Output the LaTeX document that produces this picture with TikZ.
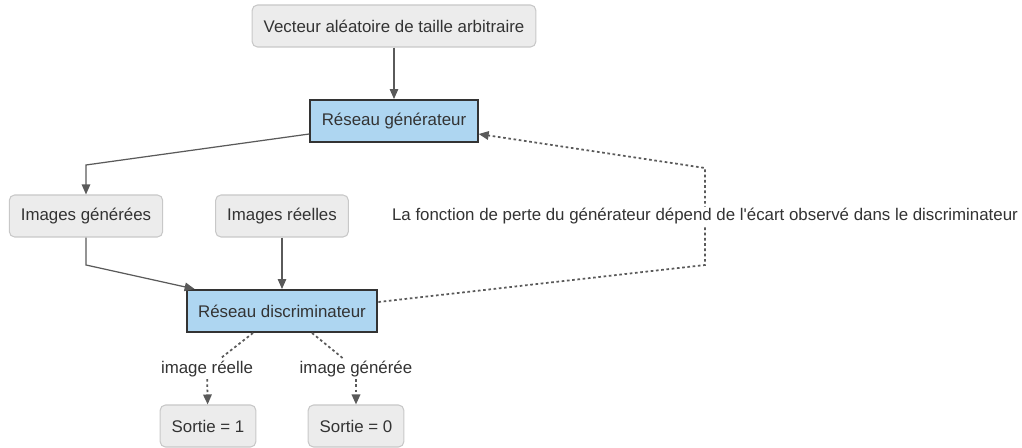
\documentclass[tikz,border=0pt]{standalone}
\usepackage{fontspec}
\setmainfont{Liberation Sans}
\usetikzlibrary{arrows.meta}

\definecolor{boxgray}{HTML}{ECECEC}
\definecolor{boxline}{HTML}{C8C8C8}
\definecolor{netblue}{HTML}{AED6F1}
\definecolor{ink}{HTML}{333333}
\definecolor{edge}{HTML}{5A5A5A}

\tikzset{
  data/.style={draw=boxline, fill=boxgray, rounded corners=3pt, line width=0.6pt,
    minimum height=0.84cm, inner xsep=0.23cm, text=ink},
  net/.style={draw=ink, fill=netblue, line width=1.1pt,
    minimum height=0.84cm, inner xsep=0.23cm, text=ink},
  flow/.style={draw=edge, line width=0.7pt, -{Triangle[length=0.2cm,width=0.17cm]}},
  feedback/.style={flow, dash pattern=on 1.5pt off 1.5pt, line width=1pt},
  lbl/.style={text=ink, fill=white, inner sep=1pt}
}

\begin{document}
\begin{tikzpicture}[x=0.02cm, y=-0.02cm, font=\fontsize{9.6}{11.5}\selectfont]
  \useasboundingbox (0,0) rectangle (1022,448);

  % boxes
  \node[data] (vec) at (394,26) {Vecteur aléatoire de taille arbitraire};
  \node[net] (gen) at (394,121) {Réseau générateur};
  \node[data] (fake) at (86,216) {Images générées};
  \node[data] (real) at (282,216) {Images réelles};
  \node[net] (disc) at (282,311) {Réseau discriminateur};
  \node[data] (out1) at (208,426) {Sortie = 1};
  \node[data] (out0) at (356,426) {Sortie = 0};

  % bends
  \coordinate (g1) at (86,165);
  \coordinate (f1) at (86,265);
  \coordinate (d1) at (705,265);
  \coordinate (d2) at (705,168);

  % generator and inputs
  \draw[flow] (vec) -- (gen);
  \draw[flow] ([yshift=-0.26cm]gen.west) -- (g1) -- (fake);
  \draw[flow] (fake) -- (f1) -- ([xshift=0.18cm]disc.north west);
  \draw[flow] (real) -- (disc);

  % loss fed back to the generator
  \draw[feedback] ([yshift=0.18cm]disc.east) -- (d1)
    -- node[lbl] (loss) {La fonction de perte du générateur dépend de l\textquotesingle écart observé dans le discriminateur} (d2)
    -- ([yshift=-0.26cm]gen.east);

  % outputs
  \node[lbl] (lr) at (207,369) {image réelle};
  \node[lbl] (lg) at (356,369) {image générée};
  \draw[feedback, -] ([xshift=-0.58cm]disc.south) -- (lr);
  \draw[feedback] (lr) -- (out1);
  \draw[feedback, -] ([xshift=0.6cm]disc.south) -- (lg);
  \draw[feedback] (lg) -- (out0);
\end{tikzpicture}
\end{document}
